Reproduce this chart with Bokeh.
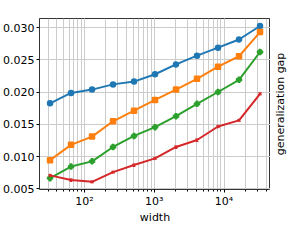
import math
from bokeh.plotting import figure
from bokeh.layouts import row
from bokeh.models import Range1d, FixedTicker, NumeralTickFormatter, CustomJSTickFormatter
from bokeh.embed import file_html
from bokeh.resources import INLINE

widths = [32, 64, 128, 256, 512, 1024, 2048, 4096, 8192, 16384, 32768]
gap_blue = [0.01825, 0.01987, 0.02038, 0.02119, 0.02162, 0.02276, 0.02428, 0.02564, 0.02688, 0.02815, 0.03024]
gap_orange = [0.00945, 0.01182, 0.01310, 0.01547, 0.01712, 0.01878, 0.02038, 0.02205, 0.02393, 0.02555, 0.02929]
gap_green = [0.00666, 0.00845, 0.00926, 0.01149, 0.01320, 0.01456, 0.01626, 0.01817, 0.02001, 0.02190, 0.02621]
gap_red = [0.00709, 0.00638, 0.00609, 0.00760, 0.00869, 0.00973, 0.01149, 0.01257, 0.01466, 0.01561, 0.01973]
y_ticks = [0.005, 0.010, 0.015, 0.020, 0.025, 0.030]

FONT = "DejaVu Sans"
X0, X1 = 22.6, 46300
Y0, Y1 = 0.0049, 0.0314
TOP = 18
BOTTOM = 38

p = figure(width=270, height=227, x_axis_type="log", output_backend="svg",
           toolbar_location=None,
           x_range=Range1d(X0, X1), y_range=Range1d(Y0, Y1),
           min_border_top=TOP, min_border_right=0, min_border_bottom=BOTTOM, min_border_left=0)

series = [
    (gap_blue, "#1f77b4", "circle", 5),
    (gap_orange, "#ff7f0e", "square", 5),
    (gap_green, "#2ca02c", "plus", 5),
    (gap_red, "#d62728", "x", 4),
]
for ys, c, m, s in series:
    p.line(widths, ys, line_color=c, line_width=2)
    p.scatter(widths, ys, marker=m, size=s, fill_color=c, line_color=c, line_width=1.5)

p.outline_line_color = "black"
p.outline_line_alpha = 0.8
p.outline_line_width = 1

p.xgrid.grid_line_color = "#cccccc"
p.xgrid.minor_grid_line_color = "#cccccc"
p.ygrid.grid_line_color = "#cccccc"
p.ygrid.ticker = FixedTicker(ticks=y_ticks)

p.yaxis.ticker = FixedTicker(ticks=y_ticks)
p.yaxis.formatter = NumeralTickFormatter(format="0.000")
p.xaxis.formatter = CustomJSTickFormatter(code="""
const sup = {'0':'\u2070','1':'\u00b9','2':'\u00b2','3':'\u00b3','4':'\u2074','5':'\u2075','6':'\u2076','7':'\u2077','8':'\u2078','9':'\u2079','-':'\u207b'};
const e = Math.round(Math.log10(tick));
return '10' + String(e).split('').map(c => sup[c]).join('');
""")

for ax in (p.xaxis[0], p.yaxis[0]):
    ax.axis_line_color = None
    ax.major_label_text_font = FONT
    ax.major_label_text_font_size = "11px"
    ax.major_label_text_color = "black"
    ax.major_tick_line_color = "black"
    ax.major_tick_in = 0
    ax.major_tick_out = 3
    ax.minor_tick_in = 0
    ax.minor_tick_out = 2
    ax.major_label_standoff = 2
    ax.axis_label_text_font = FONT
    ax.axis_label_text_font_size = "11px"
    ax.axis_label_text_font_style = "normal"
    ax.axis_label_text_color = "black"
    ax.axis_label_standoff = 0

p.yaxis.minor_tick_line_color = None
p.xaxis.axis_label = "width"

# narrow companion figure carrying the right-hand label (reads bottom-to-top)
q = figure(width=17, height=227, output_backend="svg", toolbar_location=None,
           x_range=Range1d(0, 1), y_range=Range1d(Y0, Y1),
           min_border_top=TOP, min_border_bottom=BOTTOM, min_border_left=0, min_border_right=0)
q.xaxis.visible = False
q.outline_line_color = None
q.grid.visible = False
q.yaxis.ticker = FixedTicker(ticks=[])
q.yaxis.axis_line_color = None
q.yaxis.major_tick_line_color = None
q.yaxis.minor_tick_line_color = None
q.yaxis.major_label_text_font_size = "0px"
q.yaxis.axis_label = "generalization gap"
q.yaxis.axis_label_text_font = FONT
q.yaxis.axis_label_text_font_size = "11px"
q.yaxis.axis_label_text_font_style = "normal"
q.yaxis.axis_label_text_color = "black"
q.yaxis.axis_label_standoff = 0

layout = row(p, q)
open("out.html", "w").write(file_html(layout, INLINE))
